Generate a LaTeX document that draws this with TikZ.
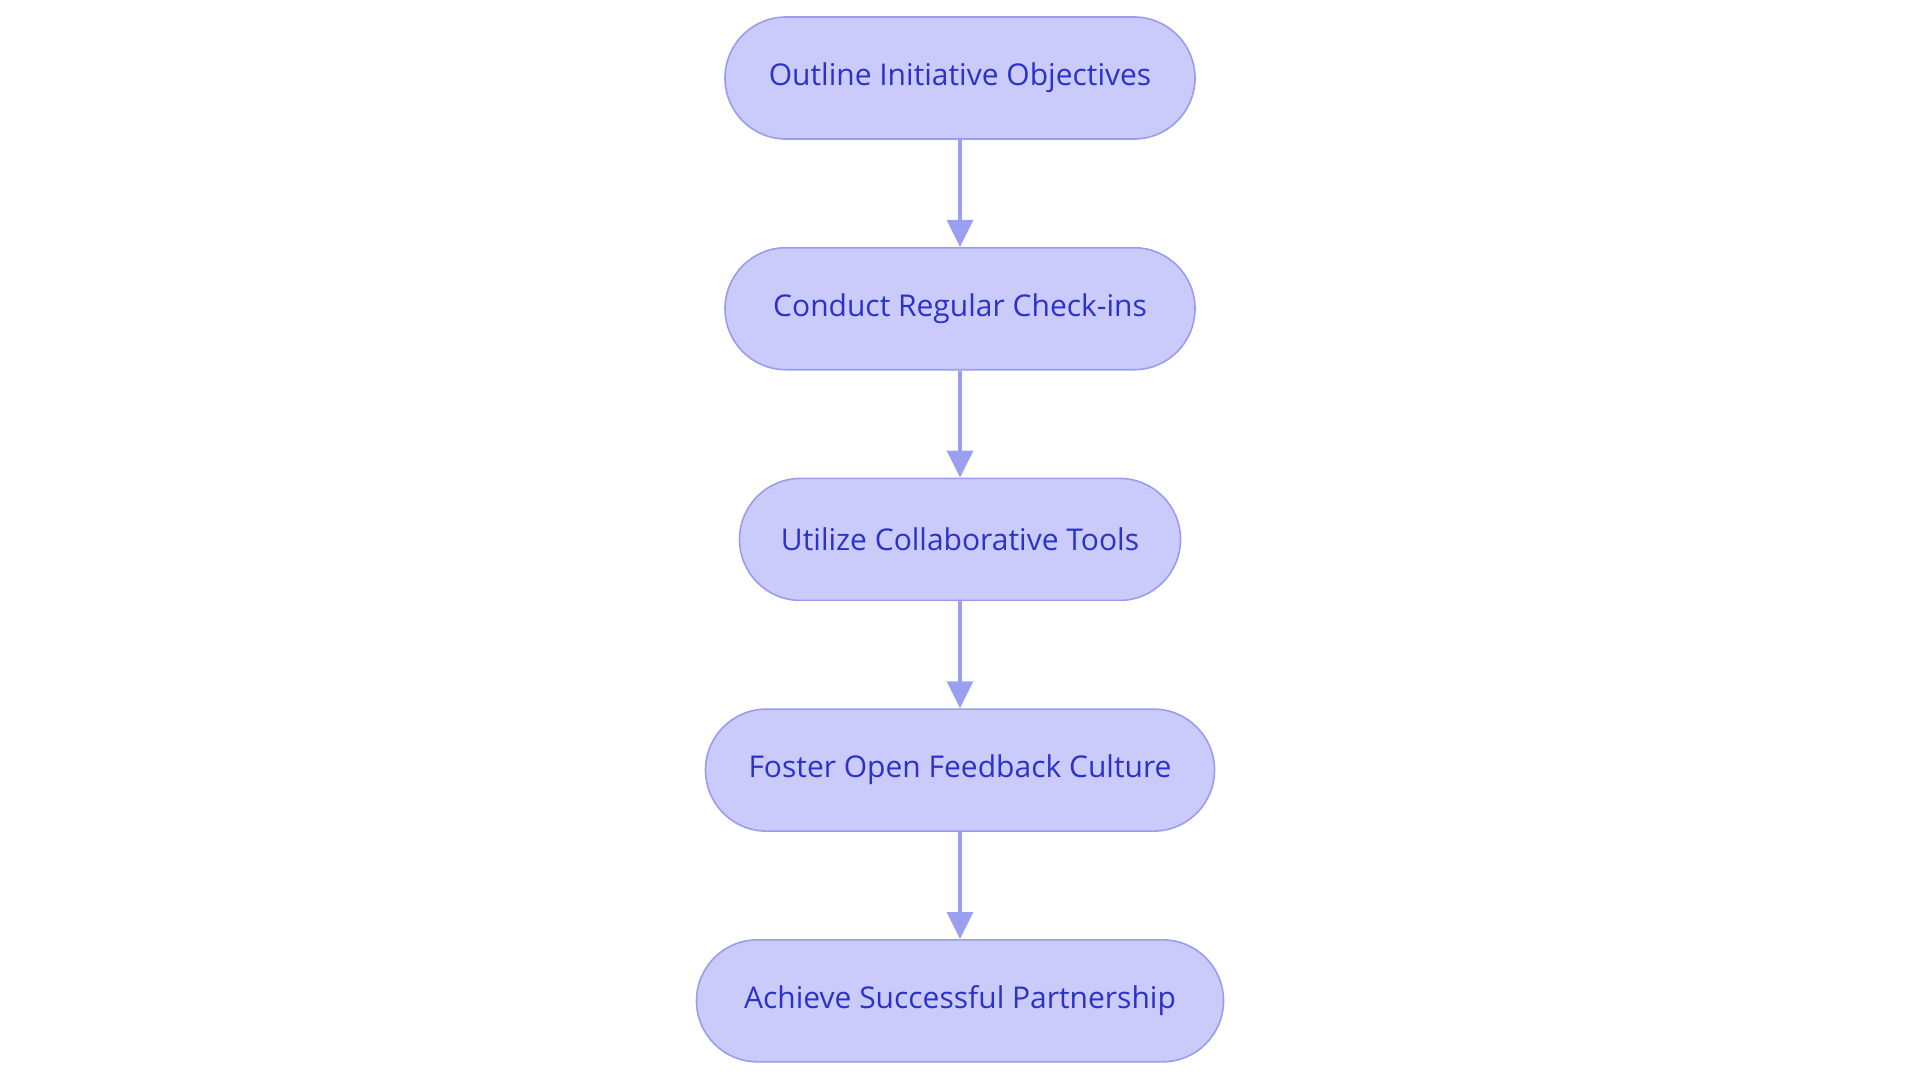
\documentclass[tikz,border=0pt]{standalone}
\usepackage{fontspec}
\setmainfont{Open Sans}
\usetikzlibrary{arrows.meta}
\definecolor{boxfill}{HTML}{CACBFB}
\definecolor{boxline}{HTML}{9A9DEE}
\definecolor{boxtext}{HTML}{2B32C8}
\definecolor{arrowc}{HTML}{9A9FEF}
\tikzset{
  stepbox/.style={draw=boxline, line width=0.8pt, fill=boxfill, text=boxtext,
    rounded corners=30.5pt, minimum height=61pt, inner sep=0pt,
    font=\fontsize{15pt}{18pt}\selectfont},
  flow/.style={draw=arrowc, line width=1.6pt, -{Triangle[length=13.5pt,width=13pt]}}
}
\begin{document}
\begin{tikzpicture}
\useasboundingbox (0,0) rectangle (960pt,-541.5pt);
\node[stepbox, minimum width=235pt] (n1) at (480pt,-39pt) {Outline Initiative Objectives};
\node[stepbox, minimum width=235pt] (n2) at (480pt,-154.35pt) {Conduct Regular Check-ins};
\node[stepbox, minimum width=220.5pt] (n3) at (480pt,-269.7pt) {Utilize Collaborative Tools};
\node[stepbox, minimum width=254.5pt] (n4) at (480pt,-385.05pt) {Foster Open Feedback Culture};
\node[stepbox, minimum width=263.5pt] (n5) at (480pt,-500.4pt) {Achieve Successful Partnership};
\draw[flow] (n1) -- (n2);
\draw[flow] (n2) -- (n3);
\draw[flow] (n3) -- (n4);
\draw[flow] (n4) -- (n5);
\end{tikzpicture}
\end{document}
